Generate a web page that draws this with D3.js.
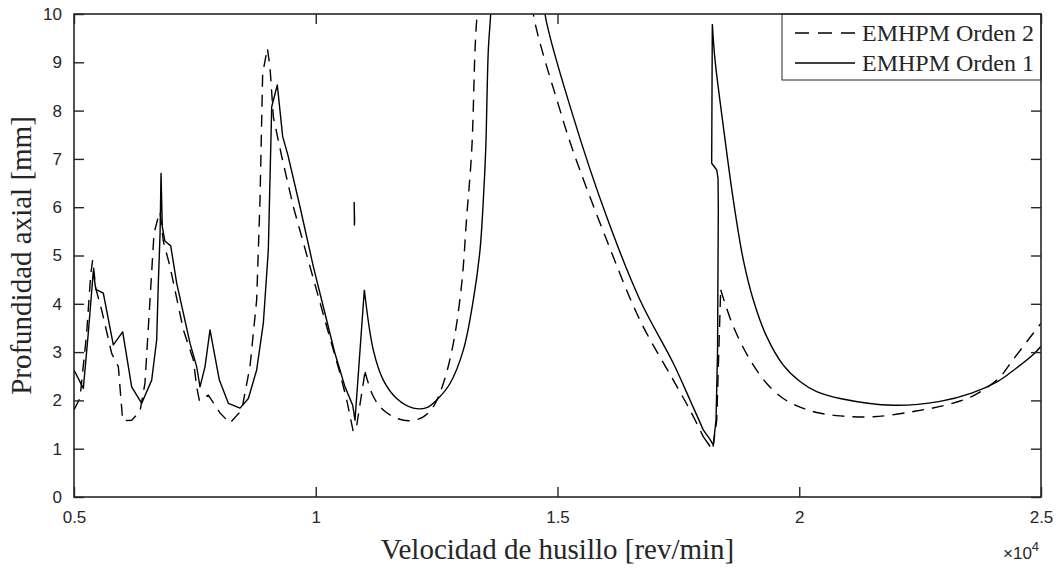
<!DOCTYPE html>
<html>
<head>
<meta charset="utf-8">
<script src="https://cdn.jsdelivr.net/npm/d3@7"></script>
<style>
  body { margin: 0; background: #fff; }
  svg { display: block; }
  .tick-label { font-family: "Liberation Sans Narrow", "Arial Narrow", "Liberation Sans", Arial, sans-serif; font-stretch: condensed; fill: #262626; }
  .serif { font-family: "Liberation Serif", "Times New Roman", serif; fill: #262626; }
</style>
</head>
<body>
<svg id="chart" width="1058" height="569"></svg>
<script>
// ---- Data (x in rev/min, y in mm); null = break in the line ----
const orden1X = [5000, 5193, 5296, 5400, 5450, 5606, 5813, 6007, 6193, 6400, 6607, 6710, 6744, 6780, 6800, 6826, 6880, 7000, 7124, 7400, 7537, 7606, 7710, 7813, 8006, 8193, 8434, 8606, 8778, 8916, 9019, 9089, 9205, 9316, 9419, 9674, 9950, 10226, 10398, 10605, 10764, 10812, 11005, 11191, 11397, 11674, 12018, 12295, 12502, 12777, 13052, 13259, 13397, 13466, 13515, 13569, 13618, 13640,
  null,
  14720, 14741, 15327, 16017, 16706, 17395, 17740, 18015, 18150, 18223, 18279, 18310, 18326, 18320, 18293, 18189, 18202, 18258, 18430, 18636, 18843, 19050, 19327, 19670, 20016, 20361, 20843, 21945, 22911, 23565, 24117, 24427, 24840, 25000,
  null,
  10795, 10800, 10803, 10796];
const orden1Y = [2.63, 2.25, 3.4, 4.68, 4.3, 4.22, 3.15, 3.42, 2.28, 1.94, 2.42, 3.25, 4.43, 5.45, 6.7, 5.6, 5.3, 5.2, 4.43, 3.18, 2.7, 2.28, 2.7, 3.46, 2.42, 1.94, 1.84, 2.04, 2.63, 3.6, 5.11, 8.08, 8.53, 7.46, 7.1, 6.01, 4.77, 3.66, 2.97, 2.28, 1.9, 1.59, 4.29, 3.04, 2.42, 2.04, 1.84, 1.85, 2.01, 2.35, 3.04, 4.08, 5.11, 6.15, 7.18, 9.25, 10, 10.6,
  null,
  10.6, 10, 7.87, 5.8, 4.08, 2.77, 2.01, 1.39, 1.2, 1.08, 1.6, 3.0, 6.0, 6.6, 6.77, 6.91, 9.79, 9.05, 7.67, 6.15, 4.91, 4.08, 3.32, 2.73, 2.39, 2.18, 2.04, 1.9, 1.98, 2.15, 2.4, 2.62, 2.95, 3.12,
  null,
  6.11, 5.63, 5.75, 6.0];

const orden2X = [5000, 5124, 5262, 5345, 5386, 5455, 5572, 5780, 5917, 6007, 6193, 6365, 6468, 6572, 6655, 6744, 6780, 6847, 6986, 7262, 7468, 7537, 7592, 7778, 8020, 8226, 8468, 8640, 8778, 8847, 8902, 8999, 9054, 9123, 9296, 9536, 9881, 10226, 10502, 10640, 10777, 10850, 11019, 11191, 11397, 11674, 11949, 12225, 12432, 12638, 12845, 13019, 13122, 13226, 13294, 13329, 13345, 13360,
  null,
  14480, 14500, 15052, 15327, 16017, 16706, 17395, 17740, 18015, 18208, 18293, 18375, 18636, 18982, 19327, 19670, 20016, 20361, 20843, 21532, 22359, 23014, 23565, 24117, 24427, 24840, 25000];
const orden2Y = [1.8, 2.05, 3.39, 4.6, 4.91, 4.3, 3.87, 2.97, 2.7, 1.58, 1.59, 1.77, 2.36, 4.08, 5.46, 5.8, 5.9, 5.3, 4.77, 3.46, 2.84, 2.28, 2.0, 2.11, 1.74, 1.53, 1.8, 2.7, 4.08, 6.15, 8.77, 9.29, 8.9, 7.87, 7.05, 6.01, 4.77, 3.53, 2.56, 2.01, 1.35, 1.5, 2.59, 2.08, 1.8, 1.63, 1.58, 1.66, 1.87, 2.35, 3.18, 4.42, 5.8, 7.18, 9.25, 9.87, 10, 10.6,
  null,
  10.6, 10, 8.01, 7.15, 5.32, 3.66, 2.42, 1.8, 1.25, 0.97, 1.59, 4.29, 3.53, 2.84, 2.35, 2.04, 1.86, 1.75, 1.68, 1.66, 1.77, 1.9, 2.08, 2.45, 2.85, 3.39, 3.6];

const xTicks = [5000, 10000, 15000, 20000, 25000];
const xTickLabels = ["0.5", "1", "1.5", "2", "2.5"];
const yTicks = [0, 1, 2, 3, 4, 5, 6, 7, 8, 9, 10];
const seriesNames = ["EMHPM Orden 2", "EMHPM Orden 1"];
const xTitle = "Velocidad de husillo [rev/min]";
const yTitle = "Profundidad axial [mm]";

// ---- Rendering style: stretches (start x, end x) drawn as smooth curves ----
const smoothSpans1 = [[11005, 13640], [14720, 18015], [18202, 25000]];
const smoothSpans2 = [[11019, 13360], [14480, 18015], [18375, 25000]];

// ---- Layout ----
const W = 1058, H = 569;
const L = 74, R = 1041, T = 14, B = 497;
const axisColor = "#262626";

const svg = d3.select("#chart");
const x = d3.scaleLinear().domain([5000, 25000]).range([L, R]);
const y = d3.scaleLinear().domain([0, 10]).range([B, T]);

svg.append("defs").append("clipPath").attr("id", "clip")
  .append("rect").attr("x", L).attr("y", T).attr("width", R - L).attr("height", B - T);

function buildSegments(xs, ys, spans) {
  const pts = xs.map((v, i) => (v === null ? null : [v, ys[i]]));
  const smooth = new Array(pts.length).fill(false);
  spans.forEach(([xa, xb]) => {
    const ia = xs.indexOf(xa), ib = xs.indexOf(xb, ia);
    for (let i = ia; i < ib; i++) smooth[i] = true;
  });
  const segs = [];
  let cur = null;
  for (let i = 0; i < pts.length - 1; i++) {
    if (pts[i] === null || pts[i + 1] === null) { cur = null; continue; }
    if (!cur || cur.smooth !== smooth[i]) {
      cur = { smooth: smooth[i], pts: [pts[i]] };
      segs.push(cur);
    }
    cur.pts.push(pts[i + 1]);
  }
  return segs;
}
const lineLinear = d3.line().x(d => x(d[0])).y(d => y(d[1]));
const lineSmooth = d3.line().x(d => x(d[0])).y(d => y(d[1])).curve(d3.curveCatmullRom.alpha(0.5));

function drawSeries(g, xs, ys, spans, dash) {
  const segs = buildSegments(xs, ys, spans);
  const d = segs.map(s => (s.smooth ? lineSmooth : lineLinear)(s.pts)).join("");
  g.append("path").attr("d", d).attr("fill", "none").attr("stroke", "#000")
    .attr("stroke-width", 1.4).attr("stroke-linejoin", "round")
    .attr("stroke-dasharray", dash);
}

const plot = svg.append("g").attr("clip-path", "url(#clip)");
drawSeries(plot, orden2X, orden2Y, smoothSpans2, "12,8");
drawSeries(plot, orden1X, orden1Y, smoothSpans1, null);

// ---- Axes (ticks inside, box) ----
const tickLen = 10;
const fmt = d => xTickLabels[xTicks.indexOf(d)];
const gxB = svg.append("g").attr("transform", `translate(0,${B})`)
  .call(d3.axisBottom(x).tickValues(xTicks).tickFormat(fmt).tickSizeInner(-tickLen).tickSizeOuter(0).tickPadding(14));
const gxT = svg.append("g").attr("transform", `translate(0,${T})`)
  .call(d3.axisTop(x).tickValues(xTicks).tickFormat("").tickSizeInner(-tickLen).tickSizeOuter(0));
const gyL = svg.append("g").attr("transform", `translate(${L},0)`)
  .call(d3.axisLeft(y).tickValues(yTicks).tickFormat(d3.format("d")).tickSizeInner(-tickLen).tickSizeOuter(0).tickPadding(12));
const gyR = svg.append("g").attr("transform", `translate(${R},0)`)
  .call(d3.axisRight(y).tickValues(yTicks).tickFormat("").tickSizeInner(-tickLen).tickSizeOuter(0));

[gxB, gxT, gyL, gyR].forEach(g => {
  g.select(".domain").remove();
  g.selectAll(".tick line").attr("stroke", axisColor).attr("stroke-width", 1.4);
  g.selectAll(".tick text").attr("class", "tick-label").attr("font-size", 17).attr("fill", axisColor);
});

// exponent label
const expText = svg.append("text").attr("class", "tick-label")
  .attr("x", 1003).attr("y", 559).attr("font-size", 17);
expText.append("tspan").text("\u00d710");
expText.append("tspan").attr("dy", -8).attr("font-size", 13).text("4");

// ---- Titles ----
svg.append("text").attr("class", "serif")
  .attr("x", (L + R) / 2).attr("y", 559).attr("text-anchor", "middle")
  .attr("font-size", 29).text(xTitle);
svg.append("text").attr("class", "serif")
  .attr("transform", `translate(31,${(T + B) / 2}) rotate(-90)`)
  .attr("text-anchor", "middle").attr("font-size", 29).text(yTitle);

// ---- Legend ----
const lg = svg.append("g");
lg.append("rect").attr("x", 782).attr("y", T).attr("width", R - 782).attr("height", 66)
  .attr("fill", "#fff").attr("stroke", axisColor).attr("stroke-width", 1);
const legendRows = [
  { name: seriesNames[0], dash: "14,9", yy: 33 },
  { name: seriesNames[1], dash: null, yy: 63 }
];
legendRows.forEach(r => {
  lg.append("line").attr("x1", 795).attr("x2", 855).attr("y1", r.yy).attr("y2", r.yy)
    .attr("stroke", "#000").attr("stroke-width", 1.4)
    .attr("stroke-dasharray", r.dash);
  lg.append("text").attr("class", "serif").attr("x", 862).attr("y", r.yy + 8)
    .attr("font-size", 24).text(r.name);
});
// axes box drawn last
svg.append("rect").attr("x", L).attr("y", T).attr("width", R - L).attr("height", B - T)
  .attr("fill", "none").attr("stroke", axisColor).attr("stroke-width", 1.6);
</script>
</body>
</html>
